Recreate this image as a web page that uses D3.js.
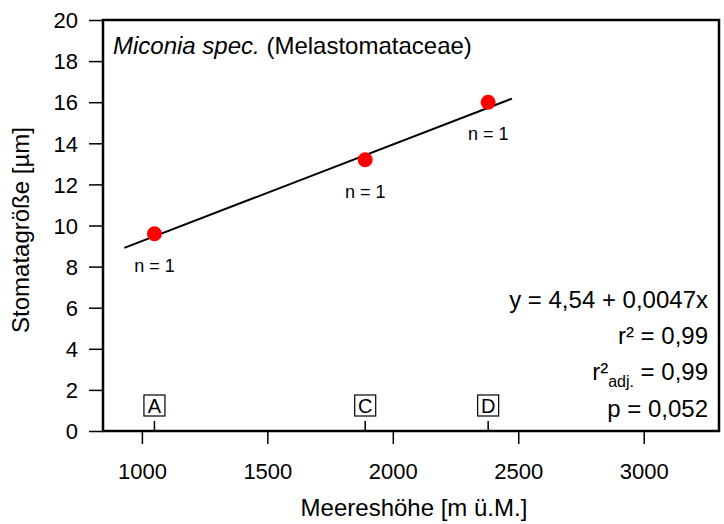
<!DOCTYPE html>
<html>
<head>
<meta charset="utf-8">
<script src="https://cdn.jsdelivr.net/npm/d3@7"></script>
<style>
  html, body { margin: 0; padding: 0; background: #fff; }
  svg text { font-family: "Liberation Sans", Arial, Helvetica, sans-serif; fill: #000; }
</style>
</head>
<body>
<svg id="chart" width="724" height="524"></svg>
<script>
// Stomata size of Miconia spec. along an elevation gradient
const elevations = [1050, 1890, 2380];
const stomataSize = [9.6, 13.2, 16.0];
const siteLabels = ["A", "C", "D"];
const sampleCounts = [1, 1, 1];

// Linear regression fit
const fitIntercept = 4.54;
const fitSlope = 0.0047;
const fitRange = [930, 2475];

const xTicks = [1000, 1500, 2000, 2500, 3000];
const yTicks = [0, 2, 4, 6, 8, 10, 12, 14, 16, 18, 20];

const statLines = [
  { main: "y = 4,54 + 0,0047x" },
  { main: "r² = 0,99" },
  { pre: "r²", sub: "adj.", post: " = 0,99" },
  { main: "p = 0,052" }
];

const TICK_FONT = 22;
const TEXT_FONT = 24;

const svg = d3.select("#chart");
const plot = { left: 103, right: 719, top: 20, bottom: 431 };

const x = d3.scaleLinear().domain([845, 3300]).range([plot.left, plot.right]);
const y = d3.scaleLinear().domain([0, 20]).range([plot.bottom, plot.top]);

// Axes
const yAxis = svg.append("g")
  .attr("transform", `translate(${plot.left},0)`)
  .call(d3.axisLeft(y).tickValues(yTicks).tickSize(14).tickPadding(11).tickFormat(d3.format("d")));
const xAxis = svg.append("g")
  .attr("transform", `translate(0,${plot.bottom})`)
  .call(d3.axisBottom(x).tickValues(xTicks).tickSize(13).tickPadding(19).tickFormat(d3.format("d")));

[yAxis, xAxis].forEach(g => {
  g.attr("font-family", null).attr("font-size", null);
  g.select(".domain").remove();
  g.selectAll(".tick line").attr("stroke", "#000").attr("stroke-width", 1.5);
  g.selectAll(".tick text").attr("fill", "#000").attr("font-size", TICK_FONT);
});
yAxis.selectAll(".tick text").attr("dy", "0.35em");

// Frame
svg.append("rect")
  .attr("x", plot.left).attr("y", plot.top)
  .attr("width", plot.right - plot.left).attr("height", plot.bottom - plot.top)
  .attr("fill", "none").attr("stroke", "#000").attr("stroke-width", 2.5);

// Regression line
svg.append("line")
  .attr("x1", x(fitRange[0])).attr("y1", y(fitIntercept + fitSlope * fitRange[0]))
  .attr("x2", x(fitRange[1])).attr("y2", y(fitIntercept + fitSlope * fitRange[1]))
  .attr("stroke", "#000").attr("stroke-width", 2);

const data = elevations.map((e, i) => ({ e, s: stomataSize[i], site: siteLabels[i], n: sampleCounts[i] }));

// Points
svg.selectAll("circle.pt").data(data).enter().append("circle")
  .attr("class", "pt")
  .attr("cx", d => x(d.e)).attr("cy", d => y(d.s)).attr("r", 7.5)
  .attr("fill", "#ff0000");

// Sample counts
svg.selectAll("text.n").data(data).enter().append("text")
  .attr("class", "n")
  .attr("x", d => x(d.e)).attr("y", d => y(d.s) + 38)
  .attr("text-anchor", "middle").attr("font-size", 18)
  .text(d => `n = ${d.n}`);

// Site markers at the x axis
const site = svg.selectAll("g.site").data(data).enter().append("g").attr("class", "site")
  .attr("transform", d => `translate(${x(d.e)},0)`);
site.append("line")
  .attr("x1", 0).attr("x2", 0).attr("y1", plot.bottom - 10).attr("y2", plot.bottom)
  .attr("stroke", "#000").attr("stroke-width", 1.5);
site.append("rect")
  .attr("x", -10.5).attr("y", 395).attr("width", 21).attr("height", 21)
  .attr("fill", "#fff").attr("stroke", "#000").attr("stroke-width", 1.2);
site.append("text")
  .attr("x", 0).attr("y", 413).attr("text-anchor", "middle").attr("font-size", 20)
  .text(d => d.site);

// Title
const title = svg.append("text").attr("x", 113).attr("y", 54).attr("font-size", TEXT_FONT);
title.append("tspan").attr("font-style", "italic").text("Miconia spec.");
title.append("tspan").text(" (Melastomataceae)");

// Regression statistics
const statBase = [308, 344, 380, 417];
statLines.forEach((s, i) => {
  const t = svg.append("text").attr("x", 708).attr("y", statBase[i])
    .attr("text-anchor", "end").attr("font-size", TEXT_FONT);
  if (s.main) {
    t.text(s.main);
  } else {
    t.append("tspan").text(s.pre);
    t.append("tspan").attr("font-size", 16).attr("dy", 7).text(s.sub);
    t.append("tspan").attr("dy", -7).text(s.post);
  }
});

// Axis titles
svg.append("text")
  .attr("x", 414).attr("y", 516)
  .attr("text-anchor", "middle").attr("font-size", TEXT_FONT)
  .text("Meereshöhe [m ü.M.]");
svg.append("text")
  .attr("transform", "translate(29,230) rotate(-90)")
  .attr("text-anchor", "middle").attr("font-size", TEXT_FONT)
  .text("Stomatagröße [µm]");
</script>
</body>
</html>
